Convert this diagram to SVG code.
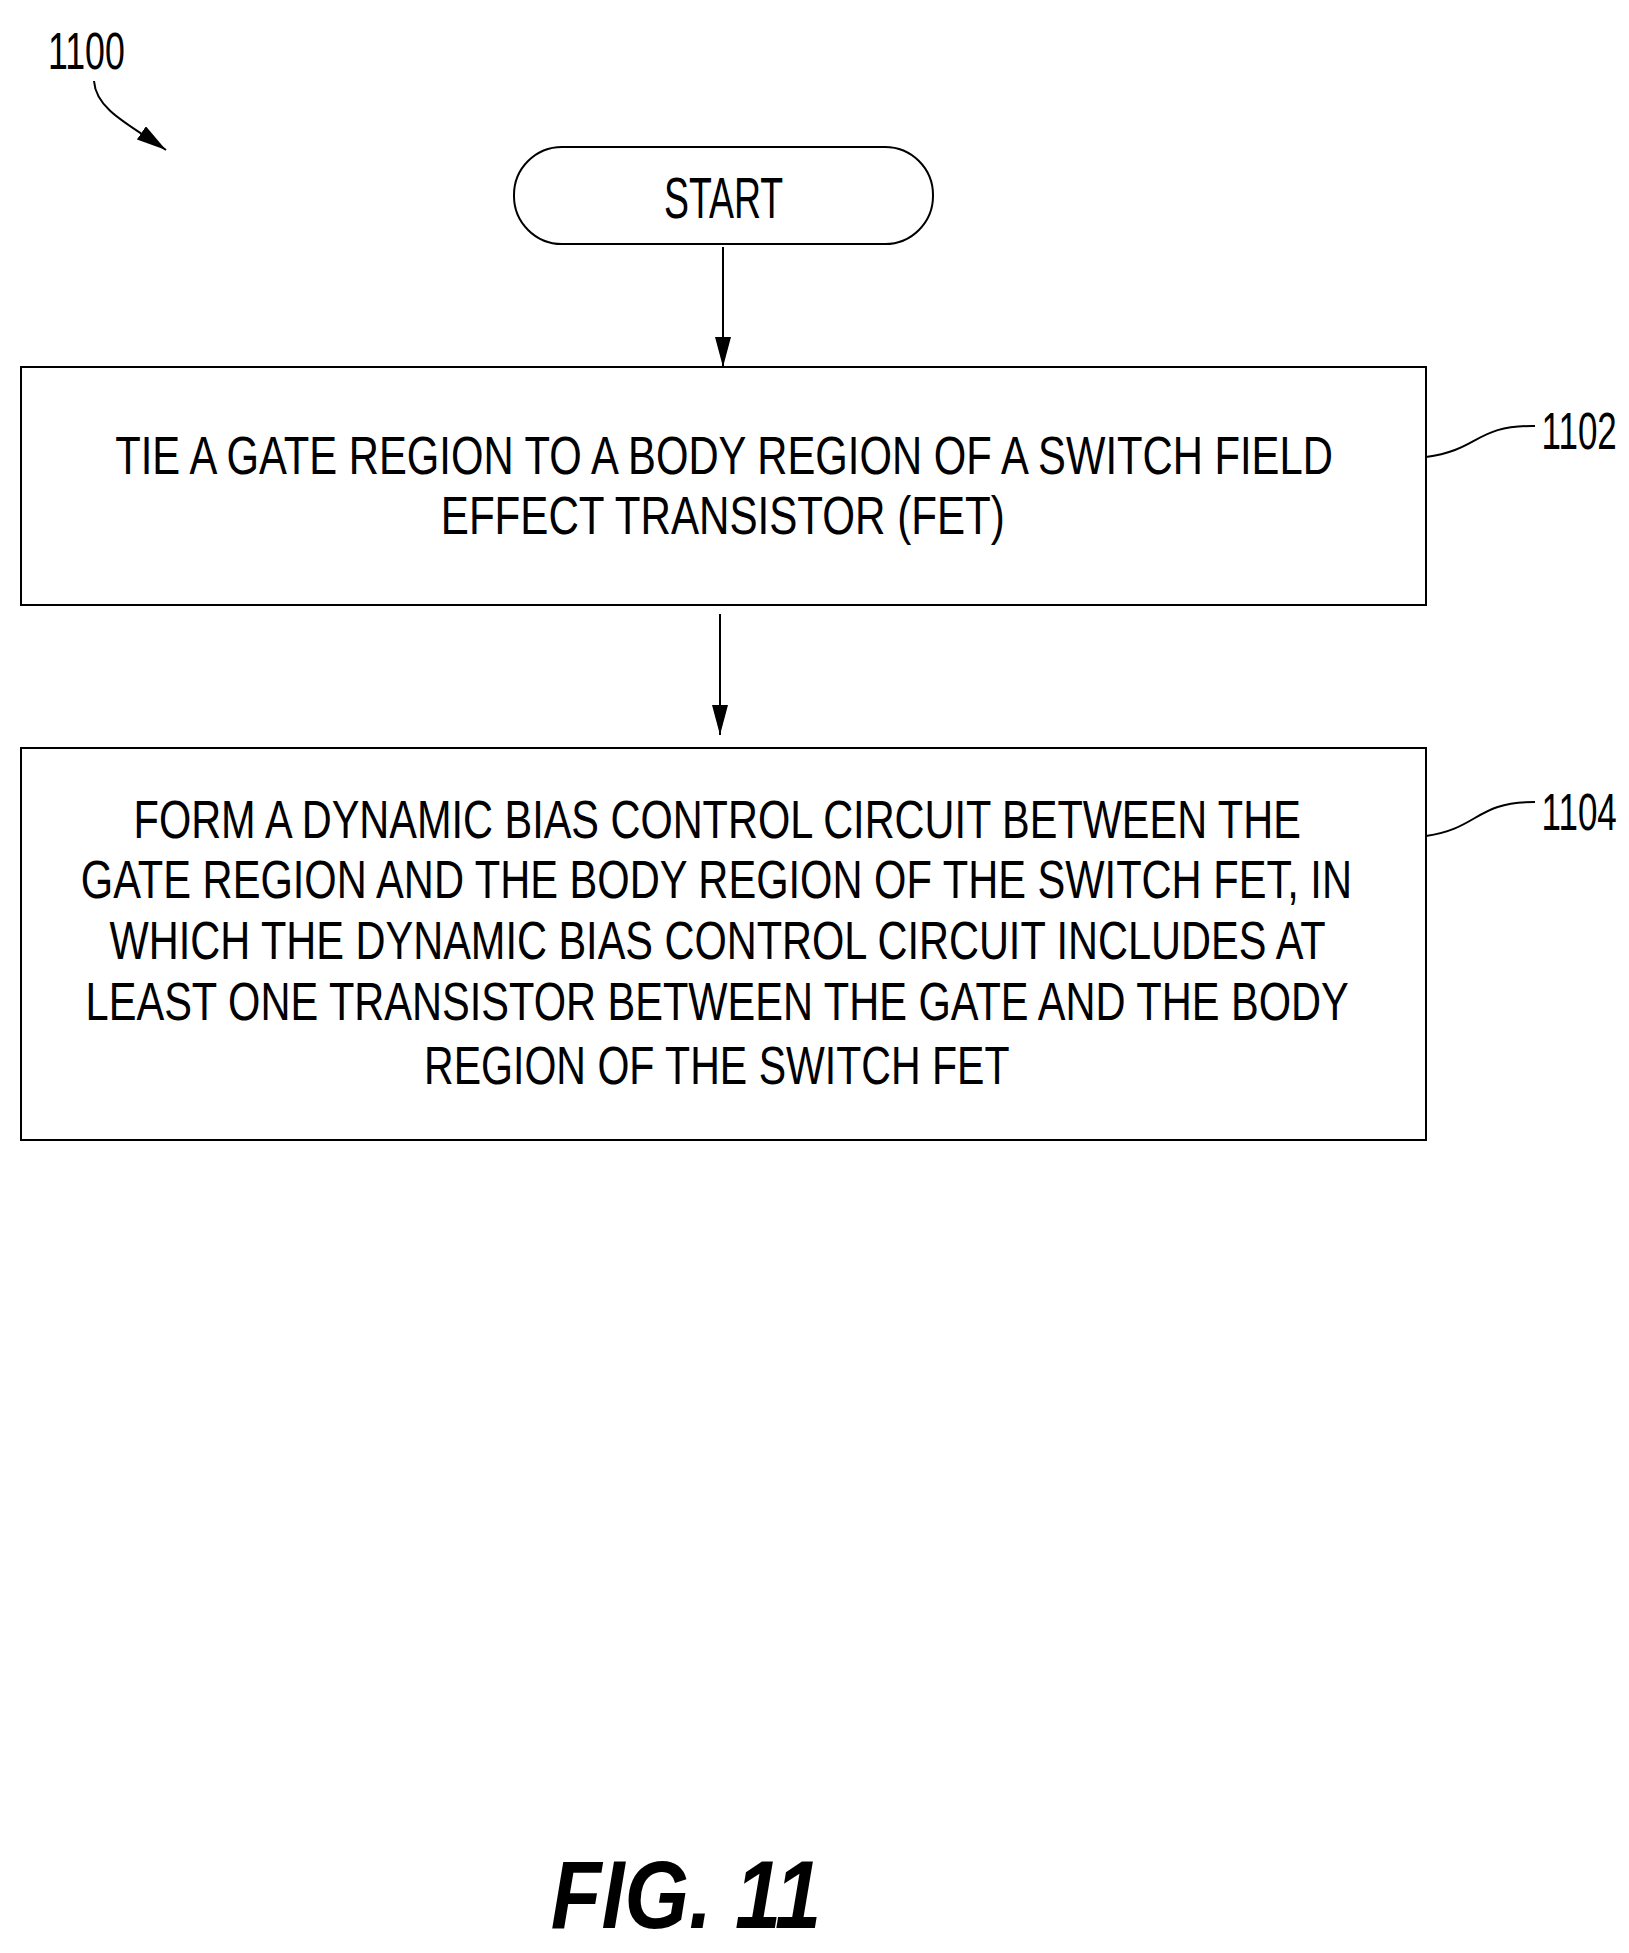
<svg xmlns="http://www.w3.org/2000/svg" width="1629" height="1953" viewBox="0 0 1629 1953">
<style>
text{font-family:"Liberation Sans",Arial,sans-serif;fill:#000}
.t{font-size:54px}
.n{stroke:#000;stroke-width:2;fill:#fff}
.c{stroke:#000;stroke-width:2;fill:none}
</style>
<defs>
<marker id="d" viewBox="0 0 30 16" refX="30" refY="8" markerWidth="30" markerHeight="16" orient="auto" markerUnits="userSpaceOnUse"><path d="M0,0 L30,8 L0,16 Z" fill="#000"/></marker></defs>
<rect width="1629" height="1953" fill="#fff"/>
<g id="label1100"><text transform="scale(0.8,1)" x="60" y="69" font-size="52" textLength="96" lengthAdjust="spacingAndGlyphs">1100</text>
<path class="c" d="M94,81 C96,110 130,125 166,150" marker-end="url(#d)"/></g>
<g id="start"><rect class="n" x="514" y="147" width="419" height="97" rx="48"/>
<text transform="scale(0.8,1)" x="830" y="218" font-size="58" textLength="149" lengthAdjust="spacingAndGlyphs">START</text></g>
<g id="n1102"><rect class="n" x="21" y="367" width="1405" height="238"/>
<g transform="scale(0.8,1)">
<text class="t" x="144" y="474" textLength="1522" lengthAdjust="spacingAndGlyphs">TIE A GATE REGION TO A BODY REGION OF A SWITCH FIELD</text>
<text class="t" x="551" y="534" textLength="705" lengthAdjust="spacingAndGlyphs">EFFECT TRANSISTOR  (FET)</text></g></g>
<g id="n1104"><rect class="n" x="21" y="748" width="1405" height="392"/>
<g transform="scale(0.8,1)">
<text class="t" x="167" y="838" textLength="1459" lengthAdjust="spacingAndGlyphs">FORM A DYNAMIC BIAS CONTROL CIRCUIT BETWEEN THE</text>
<text class="t" x="101" y="898" textLength="1589" lengthAdjust="spacingAndGlyphs">GATE REGION AND THE BODY REGION OF THE SWITCH FET, IN</text>
<text class="t" x="137" y="959" textLength="1520" lengthAdjust="spacingAndGlyphs">WHICH THE DYNAMIC BIAS CONTROL CIRCUIT INCLUDES AT</text>
<text class="t" x="107" y="1020" textLength="1579" lengthAdjust="spacingAndGlyphs">LEAST ONE TRANSISTOR BETWEEN THE GATE AND THE BODY</text>
<text class="t" x="530" y="1084" textLength="732" lengthAdjust="spacingAndGlyphs">REGION OF THE SWITCH FET</text></g></g>
<g id="labels">
<text transform="scale(0.8,1)" x="1927" y="449" font-size="52" textLength="94" lengthAdjust="spacingAndGlyphs">1102</text>
<text transform="scale(0.8,1)" x="1927" y="830" font-size="52" textLength="94" lengthAdjust="spacingAndGlyphs">1104</text>
<text transform="scale(0.85,1)" x="648" y="1928" font-size="96" font-weight="bold" font-style="italic" textLength="318" lengthAdjust="spacingAndGlyphs">FIG. 11</text></g>
<g id="connectors">
<path class="c" d="M723,247 V367" marker-end="url(#d)"/>
<path class="c" d="M720,614 V735" marker-end="url(#d)"/>
<path class="c" d="M1426,457 C1480,450 1475,425 1535,426"/>
<path class="c" d="M1426,836 C1480,828 1475,802 1535,802"/>
</g>
</svg>
